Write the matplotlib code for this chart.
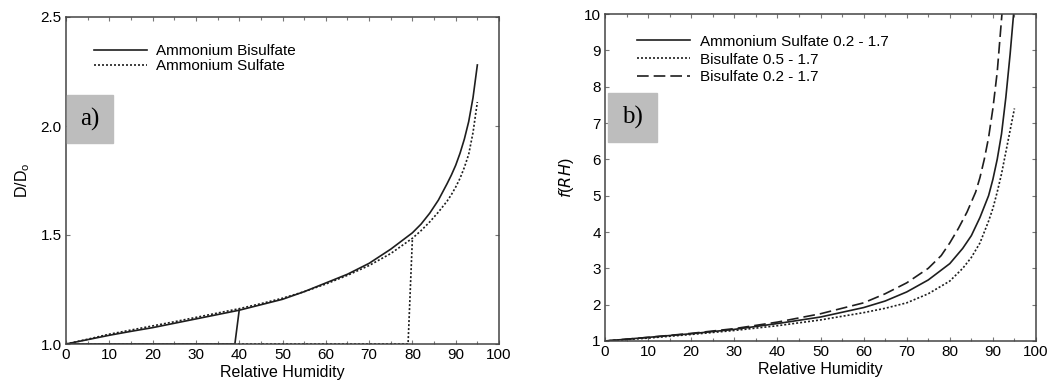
import numpy as np
import matplotlib.pyplot as plt
from matplotlib.patches import Rectangle
from matplotlib.ticker import MultipleLocator

plt.rcParams['font.family'] = ['Liberation Sans', 'DejaVu Sans']

# panel a) growth factor D/Do
rh_a = [0, 5, 10, 15, 20, 25, 30, 35, 40, 45, 50, 55, 60, 65, 70, 75, 80, 82, 84, 86, 88, 89, 90, 91, 92, 93, 94, 95]
bisulf_a = [1.0, 1.02, 1.04, 1.058, 1.075, 1.095, 1.115, 1.135, 1.155, 1.18, 1.205, 1.24, 1.28, 1.32, 1.37, 1.435, 1.51,
            1.55, 1.6, 1.66, 1.735, 1.775, 1.82, 1.875, 1.94, 2.02, 2.13, 2.28]
sulf_a = [1.0, 1.022, 1.045, 1.064, 1.083, 1.102, 1.122, 1.142, 1.162, 1.185, 1.21, 1.24, 1.275, 1.315, 1.36, 1.415, 1.485,
          1.52, 1.56, 1.605, 1.655, 1.685, 1.72, 1.76, 1.81, 1.87, 1.97, 2.11]
# deliquescence branches
bisulf_jump_x = [0, 39, 40]
bisulf_jump_y = [1.0, 1.0, 1.155]
sulf_jump_x = [0, 79, 80]
sulf_jump_y = [1.0, 1.0, 1.485]

# panel b) f(RH)
rh_b = [0, 10, 20, 30, 40, 50, 60, 65, 70, 75, 80, 83, 85, 87, 89, 90, 91, 92, 93, 94, 94.8]
as_b = [1.0, 1.1, 1.2, 1.32, 1.48, 1.66, 1.92, 2.1, 2.35, 2.68, 3.13, 3.55, 3.9, 4.4, 5.0, 5.45, 6.0, 6.7, 7.7, 8.9, 10.0]
rh_b2 = [0, 10, 20, 30, 40, 50, 60, 65, 70, 75, 80, 83, 85, 87, 88, 89, 90, 91, 92, 93, 94, 95]
bis05_b = [1.0, 1.08, 1.18, 1.29, 1.42, 1.58, 1.78, 1.9, 2.05, 2.3, 2.65, 3.0, 3.3, 3.7, 4.0, 4.3, 4.65, 5.1, 5.6, 6.2, 6.8, 7.4]
rh_b3 = [0, 10, 20, 30, 40, 50, 60, 65, 70, 75, 78, 80, 82, 84, 86, 87, 88, 89, 90, 91, 92.1]
bis02_b = [1.0, 1.1, 1.21, 1.34, 1.52, 1.75, 2.05, 2.3, 2.6, 3.0, 3.35, 3.7, 4.1, 4.55, 5.1, 5.5, 6.0, 6.6, 7.4, 8.4, 10.0]

fig = plt.figure(figsize=(10.63, 3.92), dpi=100)
ax1 = fig.add_axes([66/1063, 1-344/392, 433/1063, 327/392])
ax2 = fig.add_axes([605/1063, 1-341/392, 431/1063, 327/392])

lc = '#1e1e1e'
lw = 1.2
ax1.plot(rh_a, bisulf_a, color=lc, lw=lw, label='Ammonium Bisulfate')
ax1.plot(rh_a, sulf_a, color=lc, lw=lw, ls=(0, (1.2, 1.2)), label='Ammonium Sulfate')
ax1.plot(bisulf_jump_x, bisulf_jump_y, color=lc, lw=lw)
ax1.plot(sulf_jump_x, sulf_jump_y, color=lc, lw=lw, ls=(0, (1.2, 1.2)))
ax1.set_xlim(0, 100)
ax1.set_ylim(1.0, 2.5)
ax1.yaxis.set_major_locator(MultipleLocator(0.5))
ax1.set_ylabel('D/D$_\\mathregular{o}$', fontsize=11.5, labelpad=6)

ax2.plot(rh_b, as_b, color=lc, lw=lw, label='Ammonium Sulfate 0.2 - 1.7')
ax2.plot(rh_b2, bis05_b, color=lc, lw=lw, ls=(0, (1.2, 1.2)), label='Bisulfate 0.5 - 1.7')
ax2.plot(rh_b3, bis02_b, color=lc, lw=lw, ls=(0, (7, 3)), label='Bisulfate 0.2 - 1.7')
ax2.set_xlim(0, 100)
ax2.set_ylim(1, 10)
ax2.yaxis.set_major_locator(MultipleLocator(1))
ax2.set_ylabel('$\\mathit{f}$($\\mathit{RH}$)', fontsize=11.5, labelpad=6)

for ax in (ax1, ax2):
    ax.xaxis.set_major_locator(MultipleLocator(10))
    ax.xaxis.set_minor_locator(MultipleLocator(5))
    ax.tick_params(which='both', direction='in', top=True, right=True, labelsize=11,
                   color='#777777', length=3, width=0.8, pad=3)
    ax.tick_params(which='minor', length=2)
    ax.set_xlabel('Relative Humidity', fontsize=11.5, labelpad=2)
    for s in ax.spines.values():
        s.set_color('#444444')
        s.set_linewidth(1.1)

leg1 = ax1.legend(loc='upper left', bbox_to_anchor=(0.05, 0.935), frameon=False, fontsize=11,
                  handlelength=3.5, handletextpad=0.6, labelspacing=0.05, borderaxespad=0)
leg2 = ax2.legend(loc='upper left', bbox_to_anchor=(0.06, 0.955), frameon=False, fontsize=11,
                  handlelength=3.5, handletextpad=0.6, labelspacing=0.25, borderaxespad=0)

# panel tags
ax1.add_patch(Rectangle((0.003, 0.615), 0.105, 0.146, transform=ax1.transAxes, color='#bdbdbd', zorder=3))
ax1.text(0.055, 0.688, 'a)', transform=ax1.transAxes, ha='center', va='center', fontsize=18,
         family='Liberation Serif', zorder=4)
ax2.add_patch(Rectangle((0.007, 0.609), 0.113, 0.149, transform=ax2.transAxes, color='#bdbdbd', zorder=3))
ax2.text(0.063, 0.683, 'b)', transform=ax2.transAxes, ha='center', va='center', fontsize=18,
         family='Liberation Serif', zorder=4)

fig.savefig('out.png', dpi=100)
